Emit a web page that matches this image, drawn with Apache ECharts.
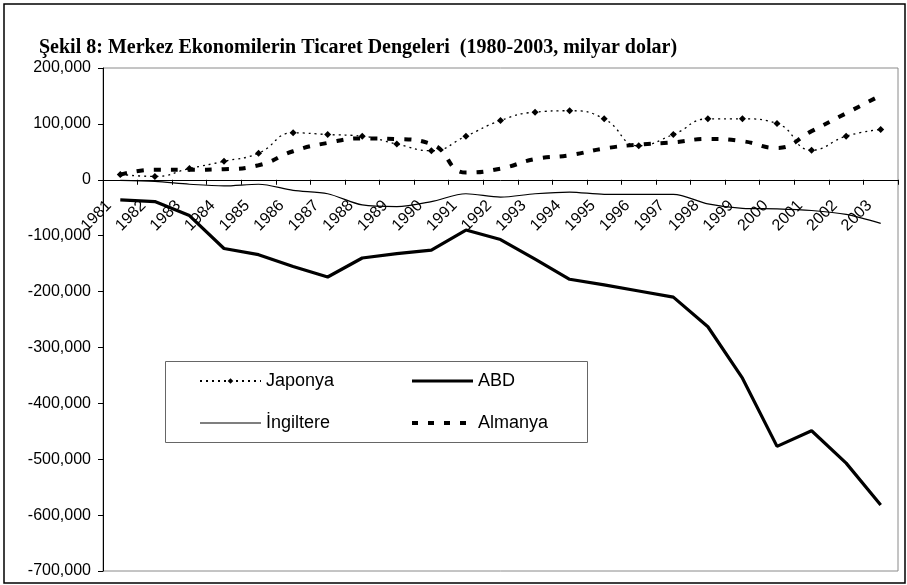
<!DOCTYPE html>
<html>
<head>
<meta charset="utf-8">
<script src="https://cdn.jsdelivr.net/npm/echarts@6/dist/echarts.min.js"></script>
<style>
html,body{margin:0;padding:0;background:#fff;}
#chart{width:907px;height:585px;}
</style>
</head>
<body>
<div id="chart"></div>
<script>
var years = ['1981','1982','1983','1984','1985','1986','1987','1988','1989','1990','1991','1992','1993','1994','1995','1996','1997','1998','1999','2000','2001','2002','2003'];
var japonya = [9600, 6000, 20000, 33000, 47600, 84000, 81000, 78000, 64000, 52000, 78000, 106000, 121000, 123500, 109000, 61000, 81000, 109000, 109000, 100600, 53000, 78000, 90000];
var abd = [-36000, -39000, -64000, -123000, -134000, -155000, -174000, -140000, -132000, -126000, -90000, -107000, -142000, -178000, -188000, -199000, -210000, -263000, -355000, -477000, -449000, -507000, -582000];
var ingiltere = [-1000, -3000, -8000, -11000, -8000, -19000, -25000, -45000, -48000, -39000, -25000, -31000, -25000, -22000, -26000, -26000, -26000, -43000, -51000, -52000, -55000, -62000, -78000];
var almanya = [9000, 18000, 18000, 19000, 26000, 51000, 66000, 74000, 73000, 64000, 13000, 20000, 37000, 44000, 56000, 63000, 67000, 73000, 69000, 57000, 87000, 119000, 151000];
var yMin = -700000, yMax = 200000, yInterval = 100000;

var W = 907, H = 585;
var gridTop = 68, gridBottom = 14;
var gridH = H - gridTop - gridBottom;
var zeroOffset = -gridH * (0 - yMin) / (yMax - yMin);

var chart = echarts.init(document.getElementById('chart'));
var sans = 'Liberation Sans, Arial, sans-serif';
var legendCommon = {
  orient: 'vertical', itemWidth: 61, itemHeight: 7, itemGap: 24,
  textStyle: {fontFamily: sans, fontSize: 18, color: '#000'},
  inactiveColor: '#000'
};
var hidden = {opacity: 0};
chart.setOption({
  animation: false,
  backgroundColor: '#fff',
  title: {
    text: 'Şekil 8: Merkez Ekonomilerin Ticaret Dengeleri  (1980-2003, milyar dolar)',
    left: 34, top: 33,
    textStyle: {fontFamily: 'Liberation Serif, Times New Roman, serif', fontWeight: 'bold', fontSize: 20, color: '#000'}
  },
  grid: {left: 103, right: 9, top: gridTop, bottom: gridBottom, show: true, borderColor: '#8a8a8a', borderWidth: 1, containLabel: false, outerBoundsMode: 'none'},
  legend: [
    Object.assign({data: [
      {name: 'Japonya'},
      {name: 'İngiltere', itemStyle: hidden, lineStyle: {width: 1.2}}
    ], left: 194, top: 367}, legendCommon),
    Object.assign({data: [
      {name: 'ABD', itemStyle: hidden, lineStyle: {width: 3.2}},
      {name: 'Almanya', itemStyle: hidden, lineStyle: {width: 4, type: [6, 10]}}
    ], left: 405, top: 367}, legendCommon)
  ],
  graphic: [
    {type: 'rect', shape: {x: 4, y: 4, width: 901, height: 579}, style: {fill: 'none', stroke: '#000', lineWidth: 1.5}, silent: true},
    {type: 'rect', shape: {x: 165.5, y: 361.5, width: 422, height: 81}, style: {fill: '#fff', stroke: '#666', lineWidth: 1}, silent: true, z: 0}
  ],
  xAxis: {
    type: 'category', data: years, boundaryGap: true, position: 'bottom', offset: zeroOffset,
    axisLine: {onZero: false, lineStyle: {color: '#000', width: 1}},
    axisTick: {show: true, length: 5, lineStyle: {color: '#000'}},
    axisLabel: {interval: 0, rotate: 45, margin: 12, padding: [0, 16, 0, 0], fontFamily: sans, fontSize: 16, color: '#000'},
    splitLine: {show: false}
  },
  yAxis: {
    type: 'value', min: yMin, max: yMax, interval: yInterval,
    axisLine: {show: true, onZero: false, lineStyle: {color: '#000', width: 1}},
    axisTick: {show: true, length: 5, lineStyle: {color: '#000'}},
    axisLabel: {margin: 12, fontFamily: sans, fontSize: 16, color: '#000',
      formatter: function (v) { return v.toLocaleString('en-US'); }},
    splitLine: {show: false}
  },
  series: [
    {name: 'Japonya', type: 'line', data: japonya, smooth: true, symbol: 'diamond', symbolSize: 7,
      itemStyle: {color: '#000'}, lineStyle: {color: '#000', width: 1.3, type: [2, 4]}, z: 4},
    {name: 'ABD', type: 'line', data: abd, smooth: false, symbol: 'none',
      itemStyle: {color: '#000'}, lineStyle: {color: '#000', width: 3.2, type: 'solid'}, z: 3},
    {name: 'İngiltere', type: 'line', data: ingiltere, smooth: 0.3, symbol: 'none',
      itemStyle: {color: '#000'}, lineStyle: {color: '#000', width: 1.2, type: 'solid'}, z: 3},
    {name: 'Almanya', type: 'line', data: almanya, smooth: true, symbol: 'none',
      itemStyle: {color: '#000'}, lineStyle: {color: '#000', width: 4, type: [7, 10], cap: 'butt'}, z: 3}
  ]
});
</script>
</body>
</html>
